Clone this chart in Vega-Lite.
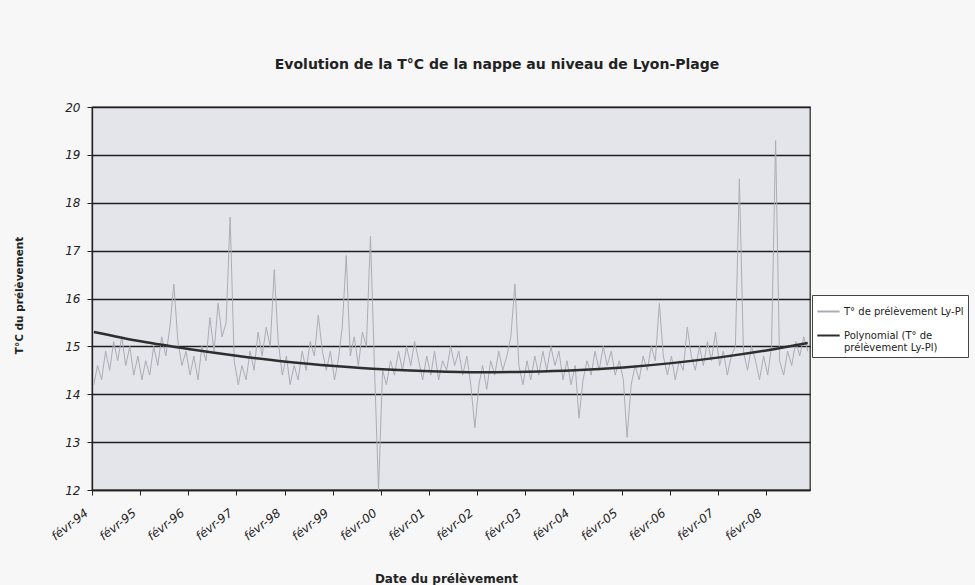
{
  "$schema": "https://vega.github.io/schema/vega-lite/v6.json",
  "autosize": {"type": "none"},
  "width": 718,
  "height": 383,
  "padding": {"left": 92, "top": 107, "right": 165, "bottom": 95},
  "background": "#f7f7f8",
  "title": {"text": "Evolution de la T°C de la nappe au niveau de Lyon-Plage", "font": "DejaVu Sans", "fontSize": 14, "fontWeight": "bold", "color": "#222", "anchor": "middle", "dx": 46, "offset": 29},
  "config": {
    "view": {"fill": "#e4e4eb", "stroke": "#333", "strokeWidth": 1.3},
    "axis": {"labelFont": "DejaVu Sans", "labelFontStyle": "italic", "labelFontSize": 12, "labelColor": "#222", "domainColor": "#222", "domainWidth": 1.3, "tickColor": "#222", "tickSize": 5, "titleFont": "DejaVu Sans", "titleFontWeight": "bold", "titleColor": "#222"}
  },
  "datasets": {
    "mesures": [
      {"date": "1994-02-15", "temp": 14.2}, {"date": "1994-03-15", "temp": 14.6}, {"date": "1994-04-15", "temp": 14.3}, {"date": "1994-05-15", "temp": 14.9}, {"date": "1994-06-15", "temp": 14.5}, {"date": "1994-07-15", "temp": 15.1}, {"date": "1994-08-15", "temp": 14.7}, {"date": "1994-09-15", "temp": 15.2}, {"date": "1994-10-15", "temp": 14.6}, {"date": "1994-11-15", "temp": 15.0}, {"date": "1994-12-15", "temp": 14.4},
      {"date": "1995-01-15", "temp": 14.8}, {"date": "1995-02-15", "temp": 14.3}, {"date": "1995-03-15", "temp": 14.7}, {"date": "1995-04-15", "temp": 14.4}, {"date": "1995-05-15", "temp": 15.0}, {"date": "1995-06-15", "temp": 14.6}, {"date": "1995-07-15", "temp": 15.2}, {"date": "1995-08-15", "temp": 14.8}, {"date": "1995-09-15", "temp": 15.4}, {"date": "1995-10-15", "temp": 16.3}, {"date": "1995-11-15", "temp": 15.1}, {"date": "1995-12-15", "temp": 14.6},
      {"date": "1996-01-15", "temp": 14.9}, {"date": "1996-02-15", "temp": 14.4}, {"date": "1996-03-15", "temp": 14.8}, {"date": "1996-04-15", "temp": 14.3}, {"date": "1996-05-15", "temp": 15.0}, {"date": "1996-06-15", "temp": 14.7}, {"date": "1996-07-15", "temp": 15.6}, {"date": "1996-08-15", "temp": 14.9}, {"date": "1996-09-15", "temp": 15.9}, {"date": "1996-10-15", "temp": 15.2}, {"date": "1996-11-15", "temp": 15.5}, {"date": "1996-12-15", "temp": 17.7},
      {"date": "1997-01-15", "temp": 14.7}, {"date": "1997-02-15", "temp": 14.2}, {"date": "1997-03-15", "temp": 14.6}, {"date": "1997-04-15", "temp": 14.3}, {"date": "1997-05-15", "temp": 14.9}, {"date": "1997-06-15", "temp": 14.5}, {"date": "1997-07-15", "temp": 15.3}, {"date": "1997-08-15", "temp": 14.8}, {"date": "1997-09-15", "temp": 15.4}, {"date": "1997-10-15", "temp": 15.0}, {"date": "1997-11-15", "temp": 16.6}, {"date": "1997-12-15", "temp": 15.1},
      {"date": "1998-01-15", "temp": 14.4}, {"date": "1998-02-15", "temp": 14.8}, {"date": "1998-03-15", "temp": 14.2}, {"date": "1998-04-15", "temp": 14.6}, {"date": "1998-05-15", "temp": 14.3}, {"date": "1998-06-15", "temp": 14.9}, {"date": "1998-07-15", "temp": 14.5}, {"date": "1998-08-15", "temp": 15.1}, {"date": "1998-09-15", "temp": 14.8}, {"date": "1998-10-15", "temp": 15.65}, {"date": "1998-11-15", "temp": 14.9}, {"date": "1998-12-15", "temp": 14.5},
      {"date": "1999-01-15", "temp": 14.9}, {"date": "1999-02-15", "temp": 14.3}, {"date": "1999-03-15", "temp": 14.7}, {"date": "1999-04-15", "temp": 15.4}, {"date": "1999-05-15", "temp": 16.9}, {"date": "1999-06-15", "temp": 14.8}, {"date": "1999-07-15", "temp": 15.2}, {"date": "1999-08-15", "temp": 14.6}, {"date": "1999-09-15", "temp": 15.3}, {"date": "1999-10-15", "temp": 15.0}, {"date": "1999-11-15", "temp": 17.3}, {"date": "1999-12-15", "temp": 14.6},
      {"date": "2000-01-15", "temp": 12.0}, {"date": "2000-02-15", "temp": 14.5}, {"date": "2000-03-15", "temp": 14.2}, {"date": "2000-04-15", "temp": 14.7}, {"date": "2000-05-15", "temp": 14.4}, {"date": "2000-06-15", "temp": 14.9}, {"date": "2000-07-15", "temp": 14.5}, {"date": "2000-08-15", "temp": 15.0}, {"date": "2000-09-15", "temp": 14.6}, {"date": "2000-10-15", "temp": 15.1}, {"date": "2000-11-15", "temp": 14.7}, {"date": "2000-12-15", "temp": 14.3},
      {"date": "2001-01-15", "temp": 14.8}, {"date": "2001-02-15", "temp": 14.4}, {"date": "2001-03-15", "temp": 14.9}, {"date": "2001-04-15", "temp": 14.3}, {"date": "2001-05-15", "temp": 14.7}, {"date": "2001-06-15", "temp": 14.5}, {"date": "2001-07-15", "temp": 15.0}, {"date": "2001-08-15", "temp": 14.6}, {"date": "2001-09-15", "temp": 14.9}, {"date": "2001-10-15", "temp": 14.4}, {"date": "2001-11-15", "temp": 14.8}, {"date": "2001-12-15", "temp": 14.2},
      {"date": "2002-01-15", "temp": 13.3}, {"date": "2002-02-15", "temp": 14.2}, {"date": "2002-03-15", "temp": 14.6}, {"date": "2002-04-15", "temp": 14.1}, {"date": "2002-05-15", "temp": 14.7}, {"date": "2002-06-15", "temp": 14.4}, {"date": "2002-07-15", "temp": 14.9}, {"date": "2002-08-15", "temp": 14.5}, {"date": "2002-09-15", "temp": 14.8}, {"date": "2002-10-15", "temp": 15.2}, {"date": "2002-11-15", "temp": 16.3}, {"date": "2002-12-15", "temp": 14.6},
      {"date": "2003-01-15", "temp": 14.2}, {"date": "2003-02-15", "temp": 14.7}, {"date": "2003-03-15", "temp": 14.3}, {"date": "2003-04-15", "temp": 14.8}, {"date": "2003-05-15", "temp": 14.4}, {"date": "2003-06-15", "temp": 14.9}, {"date": "2003-07-15", "temp": 14.5}, {"date": "2003-08-15", "temp": 15.0}, {"date": "2003-09-15", "temp": 14.6}, {"date": "2003-10-15", "temp": 14.9}, {"date": "2003-11-15", "temp": 14.3}, {"date": "2003-12-15", "temp": 14.7},
      {"date": "2004-01-15", "temp": 14.2}, {"date": "2004-02-15", "temp": 14.6}, {"date": "2004-03-15", "temp": 13.5}, {"date": "2004-04-15", "temp": 14.3}, {"date": "2004-05-15", "temp": 14.7}, {"date": "2004-06-15", "temp": 14.4}, {"date": "2004-07-15", "temp": 14.9}, {"date": "2004-08-15", "temp": 14.5}, {"date": "2004-09-15", "temp": 15.0}, {"date": "2004-10-15", "temp": 14.6}, {"date": "2004-11-15", "temp": 14.9}, {"date": "2004-12-15", "temp": 14.4},
      {"date": "2005-01-15", "temp": 14.7}, {"date": "2005-02-15", "temp": 14.3}, {"date": "2005-03-15", "temp": 13.1}, {"date": "2005-04-15", "temp": 14.2}, {"date": "2005-05-15", "temp": 14.6}, {"date": "2005-06-15", "temp": 14.3}, {"date": "2005-07-15", "temp": 14.8}, {"date": "2005-08-15", "temp": 14.5}, {"date": "2005-09-15", "temp": 15.0}, {"date": "2005-10-15", "temp": 14.7}, {"date": "2005-11-15", "temp": 15.9}, {"date": "2005-12-15", "temp": 14.8},
      {"date": "2006-01-15", "temp": 14.4}, {"date": "2006-02-15", "temp": 14.8}, {"date": "2006-03-15", "temp": 14.3}, {"date": "2006-04-15", "temp": 14.7}, {"date": "2006-05-15", "temp": 14.5}, {"date": "2006-06-15", "temp": 15.4}, {"date": "2006-07-15", "temp": 14.8}, {"date": "2006-08-15", "temp": 14.5}, {"date": "2006-09-15", "temp": 15.0}, {"date": "2006-10-15", "temp": 14.6}, {"date": "2006-11-15", "temp": 15.1}, {"date": "2006-12-15", "temp": 14.7},
      {"date": "2007-01-15", "temp": 15.3}, {"date": "2007-02-15", "temp": 14.6}, {"date": "2007-03-15", "temp": 14.9}, {"date": "2007-04-15", "temp": 14.4}, {"date": "2007-05-15", "temp": 14.8}, {"date": "2007-06-15", "temp": 15.0}, {"date": "2007-07-15", "temp": 18.5}, {"date": "2007-08-15", "temp": 14.9}, {"date": "2007-09-15", "temp": 14.5}, {"date": "2007-10-15", "temp": 15.0}, {"date": "2007-11-15", "temp": 14.7}, {"date": "2007-12-15", "temp": 14.3},
      {"date": "2008-01-15", "temp": 14.8}, {"date": "2008-02-15", "temp": 14.4}, {"date": "2008-03-15", "temp": 15.0}, {"date": "2008-04-15", "temp": 19.3}, {"date": "2008-05-15", "temp": 14.7}, {"date": "2008-06-15", "temp": 14.4}, {"date": "2008-07-15", "temp": 14.9}, {"date": "2008-08-15", "temp": 14.6}, {"date": "2008-09-15", "temp": 15.1}, {"date": "2008-10-15", "temp": 14.8}, {"date": "2008-11-15", "temp": 15.2}, {"date": "2008-12-15", "temp": 14.9}
    ],
    "tendance": [
      {"date": "1994-02-15", "temp": 15.3}, {"date": "1995-02-15", "temp": 15.1}, {"date": "1996-02-15", "temp": 14.94}, {"date": "1997-02-15", "temp": 14.8}, {"date": "1998-02-15", "temp": 14.68},
      {"date": "1999-02-15", "temp": 14.59}, {"date": "2000-02-15", "temp": 14.52}, {"date": "2001-02-15", "temp": 14.48}, {"date": "2002-02-15", "temp": 14.46}, {"date": "2003-02-15", "temp": 14.47},
      {"date": "2004-02-15", "temp": 14.5}, {"date": "2005-02-15", "temp": 14.56}, {"date": "2006-02-15", "temp": 14.65}, {"date": "2007-02-15", "temp": 14.77}, {"date": "2008-02-15", "temp": 14.92}, {"date": "2008-12-15", "temp": 15.07}
    ]
  },
  "encoding": {
    "x": {"field": "date", "type": "temporal", "title": "Date du prélèvement",
      "scale": {"domain": [{"year": 1994, "month": 2, "date": 1}, {"year": 2009, "month": 1, "date": 1}]},
      "axis": {"grid": false, "labelAngle": -38, "labelAlign": "right", "labelBaseline": "middle", "labelPadding": 16, "labelOffset": -6, "labelFontSize": 12,
        "values": [{"year": 1994, "month": 2, "date": 1}, {"year": 1995, "month": 2, "date": 1}, {"year": 1996, "month": 2, "date": 1}, {"year": 1997, "month": 2, "date": 1}, {"year": 1998, "month": 2, "date": 1}, {"year": 1999, "month": 2, "date": 1}, {"year": 2000, "month": 2, "date": 1}, {"year": 2001, "month": 2, "date": 1}, {"year": 2002, "month": 2, "date": 1}, {"year": 2003, "month": 2, "date": 1}, {"year": 2004, "month": 2, "date": 1}, {"year": 2005, "month": 2, "date": 1}, {"year": 2006, "month": 2, "date": 1}, {"year": 2007, "month": 2, "date": 1}, {"year": 2008, "month": 2, "date": 1}],
        "labelExpr": "'févr-' + timeFormat(datum.value, '%y')",
        "titleFontSize": 12, "titleY": 88, "titleX": 354, "titleBaseline": "middle"}},
    "y": {"field": "temp", "type": "quantitative", "title": "T°C du prélèvement",
      "scale": {"domain": [12, 20], "nice": false, "zero": false},
      "axis": {"values": [12, 13, 14, 15, 16, 17, 18, 19, 20], "grid": true, "gridColor": "#1e1e1e", "gridWidth": 1.3, "labelPadding": 7, "titleFontSize": 10.5, "titleX": -73, "titleY": 188, "titleAlign": "center", "titleBaseline": "middle"}}
  },
  "layer": [
    {
      "data": {"name": "mesures"},
      "mark": {"type": "line", "strokeWidth": 1},
      "encoding": {
        "color": {"datum": "T° de prélèvement Ly-Pl",
          "scale": {"domain": ["T° de prélèvement Ly-Pl", "Polynomial (T° de prélèvement Ly-Pl)"], "range": ["#acacb6", "#2e2e2e"]},
          "legend": {"title": null, "orient": "none", "legendX": 720, "legendY": 188, "fillColor": "#ffffff", "strokeColor": "#444", "padding": 4,
            "labelFont": "DejaVu Sans", "labelFontSize": 10, "labelColor": "#222", "labelLimit": 300, "labelOffset": 3, "rowPadding": 6,
            "symbolType": "stroke", "symbolSize": 500, "symbolStrokeWidth": 2,
            "labelExpr": "indexof(datum.label, 'Poly') == 0 ? ['Polynomial (T° de', 'prélèvement Ly-Pl)'] : datum.label"}}
      }
    },
    {
      "data": {"name": "tendance"},
      "mark": {"type": "line", "strokeWidth": 2.5, "interpolate": "monotone"},
      "encoding": {
        "color": {"datum": "Polynomial (T° de prélèvement Ly-Pl)"}
      }
    }
  ]
}
